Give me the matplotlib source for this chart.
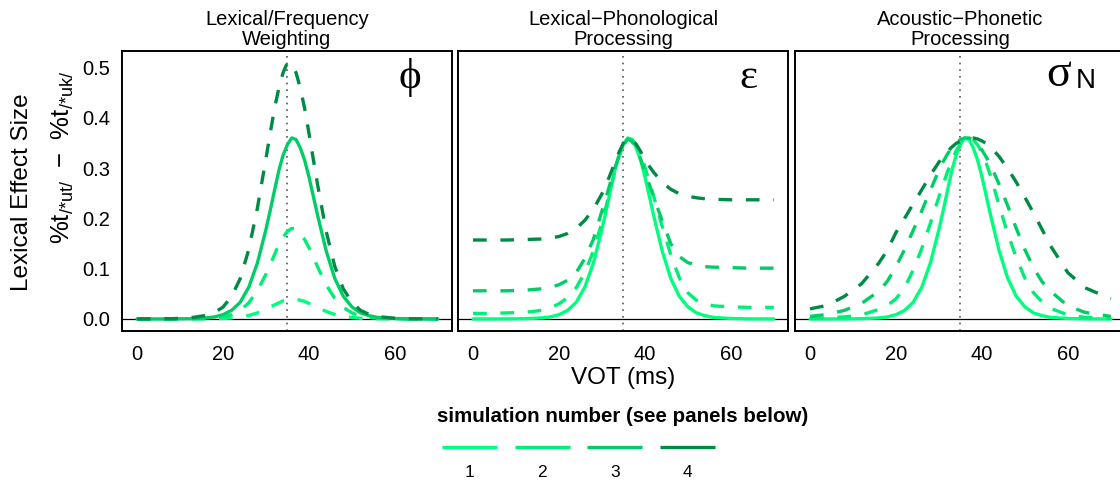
import numpy as np
import matplotlib.pyplot as plt

plt.rcParams['font.family'] = ['Liberation Sans', 'DejaVu Sans']

# VOT steps (ms) the curves were read at
vot = [0, 4, 8, 12, 16, 18, 20, 22, 24, 26, 28, 30, 31, 32, 33, 34, 35,
       36, 37, 38, 39, 40, 41, 42, 44, 46, 48, 50, 52, 54, 56, 60, 64, 70]

# baseline simulation (same in every panel)
baseline = [0, 0, 0.0001, 0.0005, 0.002, 0.004, 0.0085, 0.017, 0.033, 0.063, 0.111, 0.178,
            0.216, 0.256, 0.295, 0.326, 0.347, 0.360, 0.357, 0.340, 0.316, 0.283, 0.245, 0.207,
            0.136, 0.081, 0.045, 0.024, 0.012, 0.0065, 0.003, 0.0009, 0.0002, 0]

# lexical/frequency weighting (phi)
freq_sim1 = [0, 0, 0, 0.0001, 0.0002, 0.0004, 0.001, 0.002, 0.004, 0.007, 0.012, 0.020,
             0.024, 0.028, 0.032, 0.036, 0.038, 0.040, 0.039, 0.037, 0.035, 0.031, 0.027, 0.023,
             0.015, 0.009, 0.005, 0.003, 0.0013, 0.0007, 0.0003, 0.0001, 0, 0]
freq_sim2 = [0, 0, 0, 0.0003, 0.001, 0.002, 0.004, 0.0085, 0.017, 0.032, 0.056, 0.089,
             0.108, 0.128, 0.148, 0.163, 0.174, 0.180, 0.179, 0.170, 0.158, 0.142, 0.123, 0.104,
             0.068, 0.041, 0.023, 0.012, 0.006, 0.003, 0.0015, 0.0005, 0.0001, 0]
freq_sim3 = baseline
freq_sim4 = [0, 0.0002, 0.0005, 0.0018, 0.0069, 0.0128, 0.0235, 0.0444, 0.080, 0.138, 0.220, 0.319,
             0.370, 0.419, 0.459, 0.490, 0.510, 0.505, 0.490, 0.459, 0.419, 0.370, 0.319, 0.268,
             0.175, 0.105, 0.060, 0.033, 0.017, 0.0093, 0.0048, 0.0013, 0.0004, 0]

# lexical-phonological processing (epsilon)
phon_sim1 = baseline
phon_sim2 = [0.011, 0.011, 0.012, 0.013, 0.017, 0.022, 0.030, 0.042, 0.062, 0.092, 0.135, 0.192,
             0.225, 0.260, 0.294, 0.324, 0.347, 0.359, 0.357, 0.345, 0.326, 0.302, 0.274, 0.245,
             0.185, 0.128, 0.082, 0.052, 0.037, 0.030, 0.026, 0.024, 0.023, 0.023]
phon_sim3 = [0.056, 0.056, 0.056, 0.057, 0.060, 0.063, 0.068, 0.077, 0.092, 0.120, 0.158, 0.215,
             0.243, 0.272, 0.300, 0.325, 0.346, 0.358, 0.353, 0.338, 0.318, 0.293, 0.268, 0.243,
             0.196, 0.150, 0.124, 0.112, 0.107, 0.104, 0.103, 0.102, 0.101, 0.101]
phon_sim4 = [0.157, 0.157, 0.157, 0.158, 0.159, 0.161, 0.164, 0.170, 0.180, 0.196, 0.218, 0.249,
             0.267, 0.289, 0.311, 0.332, 0.350, 0.360, 0.356, 0.347, 0.333, 0.317, 0.304, 0.292,
             0.272, 0.258, 0.249, 0.244, 0.241, 0.239, 0.238, 0.237, 0.237, 0.237]

# acoustic-phonetic processing (sigma_N)
acou_sim1 = baseline
acou_sim2 = [0.001, 0.002, 0.004, 0.008, 0.019, 0.027, 0.040, 0.062, 0.097, 0.140, 0.190, 0.243,
             0.268, 0.293, 0.315, 0.334, 0.348, 0.357, 0.360, 0.356, 0.346, 0.332, 0.310, 0.285,
             0.226, 0.170, 0.122, 0.081, 0.052, 0.034, 0.021, 0.008, 0.003, 0.001]
acou_sim3 = [0.005, 0.009, 0.017, 0.031, 0.055, 0.075, 0.104, 0.138, 0.176, 0.215, 0.256, 0.296,
             0.313, 0.328, 0.341, 0.351, 0.357, 0.360, 0.360, 0.356, 0.348, 0.336, 0.322, 0.306,
             0.268, 0.225, 0.180, 0.138, 0.102, 0.074, 0.055, 0.026, 0.013, 0.005]
acou_sim4 = [0.020, 0.027, 0.045, 0.070, 0.111, 0.137, 0.172, 0.200, 0.229, 0.257, 0.286, 0.312,
             0.323, 0.333, 0.342, 0.349, 0.354, 0.358, 0.360, 0.360, 0.358, 0.354, 0.349, 0.342,
             0.323, 0.299, 0.272, 0.242, 0.211, 0.178, 0.145, 0.092, 0.062, 0.040]

panel_titles = ['Lexical/Frequency\nWeighting',
                'Lexical\u2212Phonological\nProcessing',
                'Acoustic\u2212Phonetic\nProcessing']
panel_curves = [[freq_sim1, freq_sim2, freq_sim3, freq_sim4],
                [phon_sim1, phon_sim2, phon_sim3, phon_sim4],
                [acou_sim1, acou_sim2, acou_sim3, acou_sim4]]
solid_sim = [2, 0, 0]  # index of the baseline curve in each panel
sim_numbers = [1, 2, 3, 4]
sim_colors = ['#00FF7F', '#00EE76', '#00CD66', '#008B45']
x_ticks = [0, 20, 40, 60]
y_ticks = [0.0, 0.1, 0.2, 0.3, 0.4, 0.5]
boundary = 35

W, H = 1120, 484
def box(l, t, w, h):
    return [l / W, 1 - (t + h) / H, w / W, h / H]

fig = plt.figure(figsize=(W / 100, H / 100), dpi=100)
lw = 2.4
dash = (0, (4.1, 4.1))

lefts = [122, 458, 795]
axes = []
for i in range(3):
    ax = fig.add_axes(box(lefts[i], 51, 330, 280))
    ax.axhline(0, color='black', lw=0.9, zorder=1)
    ax.axvline(boundary, color='#555555', lw=1.2, ls=(0, (1, 3)), zorder=1)
    for j, ys in enumerate(panel_curves[i]):
        ls = '-' if j == solid_sim[i] else dash
        ax.plot(vot, ys, color=sim_colors[j], lw=lw, ls=ls,
                dash_capstyle='butt', solid_capstyle='round', zorder=2 + j)
    ax.set_xlim(-3.5, 73.3)
    ax.set_ylim(-0.024, 0.533)
    ax.set_xticks(x_ticks)
    ax.set_yticks(y_ticks)
    ax.tick_params(length=0, labelsize=14.5)
    ax.tick_params(axis='x', pad=10)
    ax.tick_params(axis='y', pad=8.5)
    if i > 0:
        ax.set_yticklabels([])
    for s in ax.spines.values():
        s.set_linewidth(1.4)
    ax.set_title(panel_titles[i], fontsize=14.5, linespacing=1.12, pad=4)
    axes.append(ax)

serif = ['Liberation Serif', 'DejaVu Serif']
axes[0].text(0.873, 0.905, '\u03d5', transform=axes[0].transAxes, fontsize=31,
             family=serif, ha='center', va='center')
axes[1].text(0.879, 0.905, '\u03b5', transform=axes[1].transAxes, fontsize=31,
             family=serif, ha='center', va='center')
axes[2].text(0.80, 0.915, '\u03c3', transform=axes[2].transAxes, fontsize=33,
             family=serif, ha='center', va='center')
axes[2].text(0.88, 0.893, 'N', transform=axes[2].transAxes, fontsize=20,
             ha='center', va='center')

fig.text(22 / W, 1 - 192 / H, 'Lexical Effect Size', rotation=90, fontsize=17.5,
         ha='center', va='center')
fig.text(63 / W, 1 - 157 / H,
         r'$\mathregular{\%t_{/{*}ut/}\ -\ \%t_{/{*}uk/}}$', rotation=90, fontsize=18.5,
         ha='center', va='center')
fig.text(623 / W, 1 - 378 / H, 'VOT (ms)', fontsize=17.5, ha='center', va='center')

# legend: keys with the simulation number underneath
fig.text(623 / W, 1 - 417 / H, 'simulation number (see panels below)', fontsize=14.8,
         fontweight='bold', ha='center', va='center')
lax = fig.add_axes(box(433.2, 436, 290.8, 46))
lax.set_xlim(-0.5, 3.5)
lax.set_ylim(0, 1)
lax.axis('off')
for k, n in enumerate(sim_numbers):
    lax.plot([k - 0.378, k + 0.378], [0.761, 0.761], color=sim_colors[k], lw=lw,
             solid_capstyle='butt')
    lax.text(k, 0.217, str(n), fontsize=12.5, ha='center', va='center')

fig.savefig('out.png', dpi=100)
